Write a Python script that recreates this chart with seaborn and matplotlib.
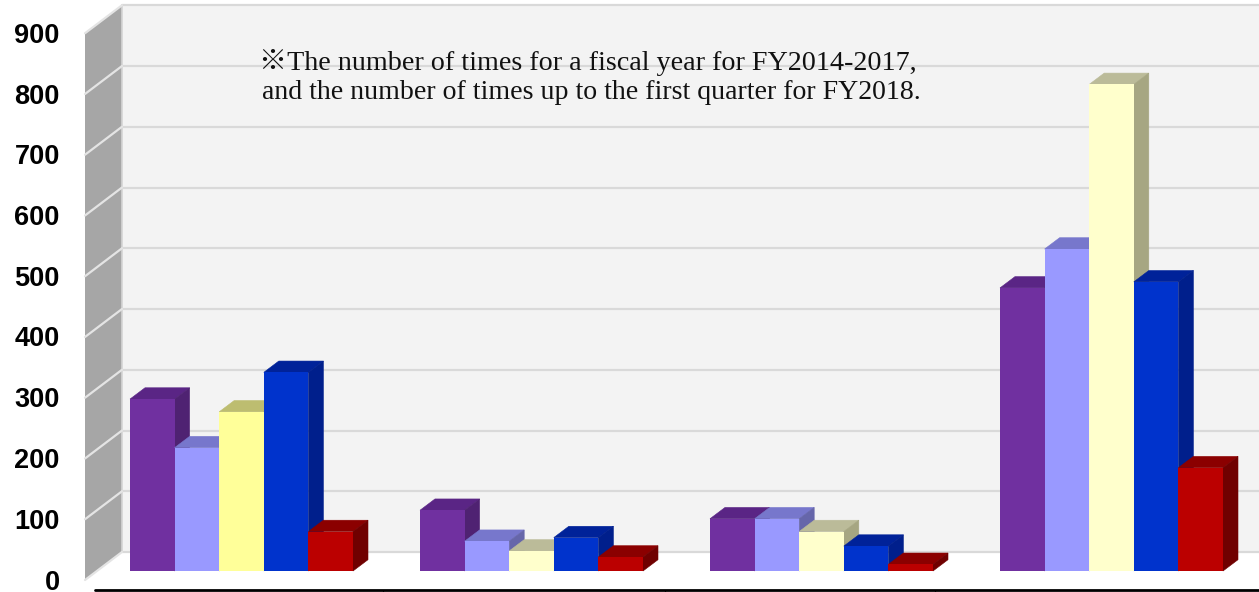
import numpy as np
import pandas as pd
import seaborn as sns
from matplotlib import pyplot as plt
from matplotlib.transforms import ScaledTranslation

# Data
categories = ["Group 1", "Group 2", "Group 3", "Group 4"]
years = ["FY2014", "FY2015", "FY2016", "FY2017", "FY2018"]
fy2014 = [283, 100, 86, 466]
fy2015 = [203, 49, 86, 530]
fy2016 = [262, 33, 65, 801]
fy2017 = [327, 55, 41, 476]
fy2018 = [65, 23, 11, 170]
y_ticks = [0, 100, 200, 300, 400, 500, 600, 700, 800, 900]

note_1 = "※The number of times for a fiscal year for FY2014-2017,"
note_2 = "and the number of times up to the first quarter for FY2018."

# Colours: front, top, side
front = ["#7030A0", "#9999FF", "#FFFFCC", "#0033CC", "#BB0000"]
top = ["#5A2585", "#7777CC", "#BBBB99", "#002299", "#8B0000"]
side = ["#4F2272", "#6666AA", "#A6A682", "#001F8C", "#700000"]

df = pd.DataFrame({
    "category": categories * 5,
    "year": np.repeat(years, 4),
    "times": fy2014 + fy2015 + fy2016 + fy2017 + fy2018,
})

sns.set_style("white")
W, H = 1259, 592
AX_LEFT = 64
PX_PER_UNIT = 0.6075
BASE_PX = 571
GROUP_PX = 290
FIRST_PX = 241.5


# Pixel to data helpers
def px_x(px):
    return (px - FIRST_PX) / GROUP_PX


def px_y(px):
    return (BASE_PX - px) / PX_PER_UNIT


fig = plt.figure(figsize=(W / 100, H / 100), dpi=100, facecolor="white")
ax = fig.add_axes([AX_LEFT / W, 0, 1 - AX_LEFT / W, 1])

sns.barplot(data=df, x="category", y="times", hue="year", hue_order=years,
            palette=front, width=223 / GROUP_PX, gap=0, saturation=1,
            linewidth=0, legend=False, ax=ax, zorder=3)

x_right = px_x(W)
ax.set_xlim(px_x(AX_LEFT), x_right)
ax.set_ylim(px_y(H), px_y(0))
ax.set_xticks([])
ax.set_xlabel("")
ax.set_ylabel("")
sns.despine(ax=ax, left=True, bottom=True)

# Back wall and left wall
back_x = px_x(122)
wall_x = px_x(85)
back_dy = px_y(552)
wall_dy = px_y(580)
top_val = max(y_ticks)
ax.fill([back_x, x_right, x_right, back_x],
        [back_dy, back_dy, top_val + back_dy, top_val + back_dy],
        color="#F3F3F3", lw=0, zorder=0)
ax.fill([wall_x, back_x, back_x, wall_x],
        [wall_dy, back_dy, top_val + back_dy, top_val + wall_dy],
        color="#A6A6A6", lw=0, zorder=1)
ax.plot([back_x, back_x], [back_dy, top_val + back_dy], color="#D4D4D4", lw=1.2, zorder=1)
for t in y_ticks:
    ax.plot([back_x, x_right], [t + back_dy, t + back_dy], color="#D9D9D9", lw=1.6, zorder=1)
    ax.plot([wall_x, back_x], [t + wall_dy, t + back_dy], color="#E4E4E4", lw=1.6, zorder=2)

# 3D faces built on the bars seaborn drew
dx = 15 / GROUP_PX
dy = 11.3 / PX_PER_UNIT
for i, bars in enumerate(ax.containers):
    for j, bar in enumerate(bars):
        if i == 2 and j == 0:
            # the first group has a stronger yellow
            bar.set_facecolor("#FFFF99")
            top_c, side_c = "#BDBD70", "#A6A662"
        else:
            top_c, side_c = top[i], side[i]
        x0 = bar.get_x()
        x1 = x0 + bar.get_width()
        h = bar.get_height()
        bar.set_zorder(4 + 2 * i)
        ax.fill([x0, x1, x1 + dx, x0 + dx], [h, h, h + dy, h + dy],
                color=top_c, lw=0.4, zorder=3 + 2 * i)
        ax.fill([x1, x1 + dx, x1 + dx, x1], [0, dy, h + dy, h],
                color=side_c, lw=0.4, zorder=3 + 2 * i)

# Value labels sit on the front edge of the left wall
ax.set_yticks(y_ticks)
ax.tick_params(axis="y", length=0, pad=3)
offset = ScaledTranslation(0, (BASE_PX - 579.5) / 100, fig.dpi_scale_trans)
for label in ax.get_yticklabels():
    label.set_family("Liberation Sans")
    label.set_fontweight("bold")
    label.set_fontsize(19.5)
    label.set_color("black")
    label.set_transform(label.get_transform() + offset)

# Category axis line, labels are cut off by the picture edge
line_y = px_y(589.5)
ax.plot([px_x(95), x_right], [line_y, line_y], color="black", lw=2, zorder=2)
for px in [383, 665, 935]:
    ax.plot([px_x(px), px_x(px)], [line_y, px_y(592)], color="black", lw=0.8, zorder=2)

# Note
serif = ["Liberation Serif", "Noto Sans CJK JP"]
ax.text(px_x(259), px_y(62), note_1, family=serif, fontsize=20.25, color="#111111",
        va="center", ha="left", zorder=20)
ax.text(px_x(262), px_y(92), note_2, family=serif, fontsize=20.1, color="#111111",
        va="center", ha="left", zorder=20)

fig.savefig("out.png", dpi=100)
